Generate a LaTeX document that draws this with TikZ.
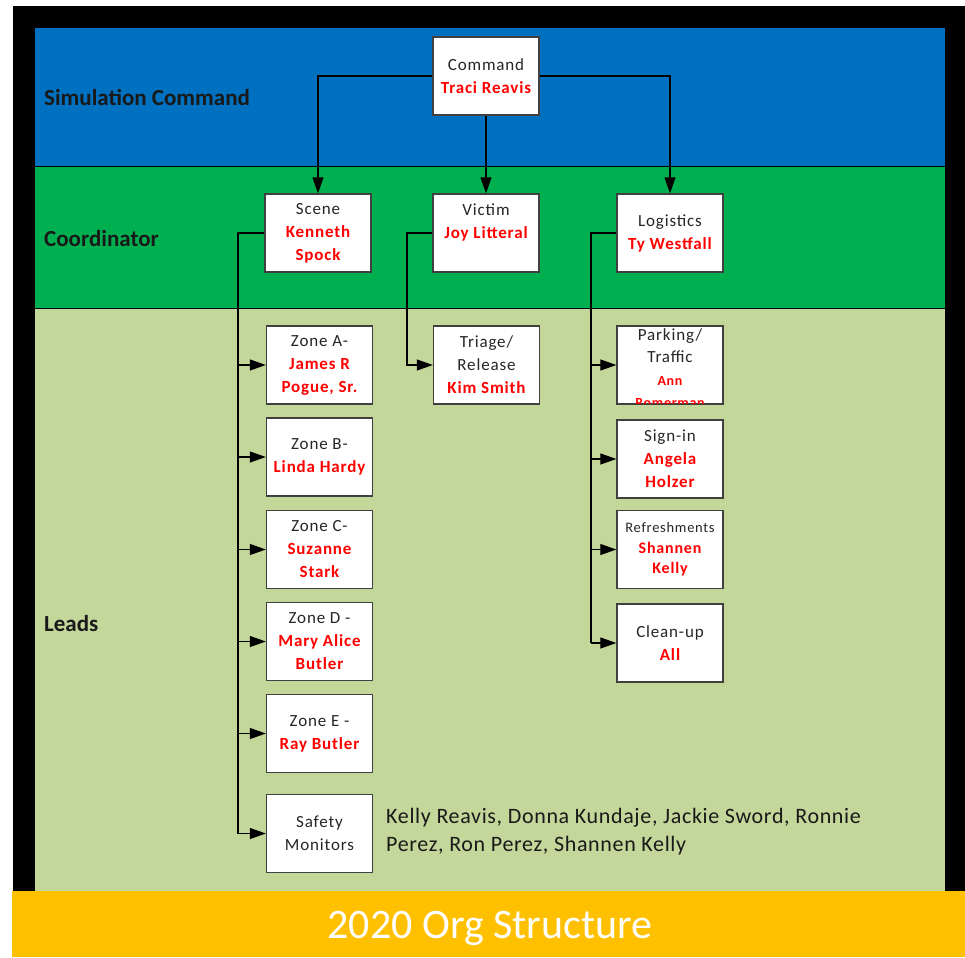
\documentclass[tikz,border=0pt]{standalone}
\usepackage{fontspec}
\setmainfont{Carlito}
\newfontfamily\boxfont[LetterSpace=5]{Carlito}
\newfontfamily\namesfont[LetterSpace=3]{Carlito}
\usetikzlibrary{arrows.meta}
\definecolor{bandblue}{HTML}{0070C0}
\definecolor{bandgreen}{HTML}{00B050}
\definecolor{bandlight}{HTML}{C4D79B}
\definecolor{titleyellow}{HTML}{FFC000}
\definecolor{namered}{HTML}{FF0000}
\definecolor{boxgray}{HTML}{404040}
\newcommand{\nm}[1]{{\bfseries\color{namered}#1}}
\tikzset{
  orgbox/.style={draw=boxgray, line width=1.4pt, fill=white, minimum width=106pt, minimum height=78pt,
    inner sep=0pt, align=center, text=black!85, font=\boxfont\fontsize{17}{23}\selectfont},
  bandlabel/.style={anchor=west, font=\bfseries\fontsize{23}{26}\selectfont, text=black!90, inner sep=0pt},
  conn/.style={draw=black, line width=1.2pt},
  arr/.style={conn, -{Triangle[length=16pt,width=11pt]}}
}
\begin{document}
\begin{tikzpicture}[x=1pt,y=-1pt]
\useasboundingbox (0,0) rectangle (965,957);
\fill[white] (0,0) rectangle (965,957);
% frame and bands
\fill[black] (13,6) rectangle (965,891);
\fill[bandblue] (35,28) rectangle (945,167);
\fill[bandgreen] (35,167) rectangle (945,308);
\fill[bandlight] (35,308) rectangle (945,891);
\draw[black, line width=1pt] (35,167) -- (945,167);
\draw[black, line width=1pt] (35,308) -- (945,308);
\fill[titleyellow] (12,891) rectangle (965,957);
\node[font=\fontsize{42}{48}\selectfont, text=white, inner sep=0pt] (title) at (490,928) {2020 Org Structure};
% band labels
\node[bandlabel] (lsim) at (44,98) {Simulation Command};
\node[bandlabel] (lcoord) at (44,239) {Coordinator};
\node[bandlabel] (llead) at (44,624) {Leads};
% command & coordinators
\node[orgbox] (cmd) at (486,76) {Command\\\nm{Traci Reavis}};
\node[orgbox] (scene) at (318,233) {Scene\\\nm{Kenneth}\\\nm{Spock}};
\node[orgbox] (vic) at (486,233) {Victim\\\nm{Joy Litteral}\\\mbox{}};
\node[orgbox] (log) at (670,233) {Logistics\\\nm{Ty Westfall}};
% scene leads
\node[orgbox] (za) at (319.5,365) {Zone A-\\\nm{James R}\\\nm{Pogue, Sr.}};
\node[orgbox] (zb) at (319.5,457) {Zone B-\\\nm{Linda Hardy}};
\node[orgbox] (zc) at (319.5,549.5) {Zone C-\\\nm{Suzanne}\\\nm{Stark}};
\node[orgbox] (zd) at (319.5,641.5) {Zone D -\\\nm{Mary Alice}\\\nm{Butler}};
\node[orgbox] (ze) at (319.5,733.5) {Zone E -\\\nm{Ray Butler}};
\node[orgbox] (safety) at (319.5,833.5) {Safety\\Monitors};
\node[anchor=west, align=left, inner sep=0pt, text=black!90, font=\namesfont\fontsize{22}{28}\selectfont] (smnames) at (386,832)
  {Kelly Reavis, Donna Kundaje, Jackie Sword, Ronnie\\Perez, Ron Perez, Shannen Kelly};
% victim lead
\node[orgbox] (triage) at (486.5,365) {Triage/\\Release\\\nm{Kim Smith}};
% logistics leads
\node[orgbox] (park) at (670,365) {};
\begin{scope}
  \clip (park.south west) rectangle (park.north east);
  \node[align=center, inner sep=0pt, text=black!85, font=\boxfont\fontsize{17}{22.5}\selectfont] (parktext) at (670,368)
    {Parking/\\Traffic\\{\fontsize{14}{22.5}\selectfont\nm{Ann}}\\{\fontsize{14}{22.5}\selectfont\nm{Romerman}}};
\end{scope}
\draw[draw=boxgray, line width=1.4pt] (park.south west) rectangle (park.north east);
\node[orgbox] (sign) at (670,459) {Sign-in\\\nm{Angela}\\\nm{Holzer}};
\node[orgbox, font=\boxfont\fontsize{14.5}{20.5}\selectfont] (refr) at (670,549.5) {Refreshments\\{\fontsize{16}{20.5}\selectfont\nm{Shannen}}\\{\fontsize{16}{20.5}\selectfont\nm{Kelly}}};
\node[orgbox] (clean) at (670,643) {Clean-up\\\nm{All}};
% command connectors
\draw[arr] (cmd.west) -| (scene.north);
\draw[arr] (cmd.east) -| (log.north);
\draw[arr] (cmd.south) -- (vic.north);
% scene trunk
\coordinate (st) at (238,233);
\draw[conn] (scene.west) -- (st) -- (st |- safety.west);
\foreach \b in {za,zb,zc,zd,ze,safety} \draw[arr] (st |- \b.west) -- (\b.west);
% victim trunk
\coordinate (vt) at (407,233);
\draw[arr] (vic.west) -- (vt) |- (triage.west);
% logistics trunk
\coordinate (lt) at (591,233);
\draw[conn] (log.west) -- (lt) -- (lt |- clean.west);
\foreach \b in {park,sign,refr,clean} \draw[arr] (lt |- \b.west) -- (\b.west);
\end{tikzpicture}
\end{document}
